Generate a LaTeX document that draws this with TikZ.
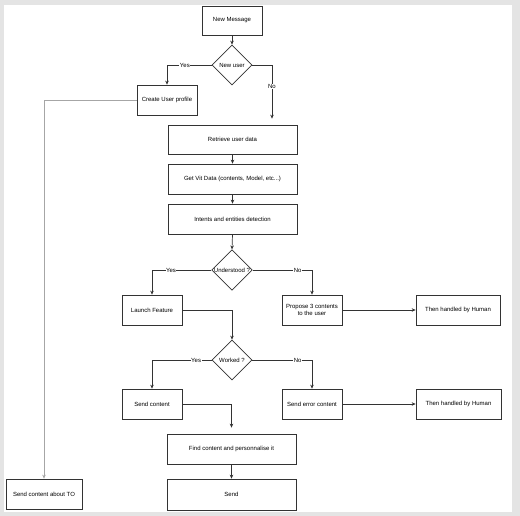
\documentclass[tikz,border=0pt]{standalone}
\usepackage{fontspec}
\setmainfont{Liberation Sans}
\usetikzlibrary{arrows.meta,shapes.geometric}
\definecolor{bggray}{HTML}{E4E4E4}
\definecolor{edgec}{HTML}{333333}
\begin{document}
\begin{tikzpicture}[x=1pt,y=-1pt,
  every node/.style={font=\fontsize{6}{7}\selectfont, text=black},
  box/.style={draw=edgec, line width=0.7pt, fill=white, inner sep=0pt, align=center},
  dia/.style={draw=edgec, line width=0.7pt, fill=white, diamond, inner sep=0pt, minimum width=40pt, minimum height=40pt, align=center},
  conn/.style={draw=edgec, line width=0.7pt, -{Stealth[length=4pt,width=3.5pt]}},
  lbl/.style={fill=white, inner sep=0.5pt}
]
\useasboundingbox (0,0) rectangle (520,516);
\fill[bggray] (0,0) rectangle (520,516);
\fill[white] (4,5) rectangle (512,512);

\node[box, minimum width=60pt, minimum height=29pt] (nm) at (232,20.5) {New Message};
\node[dia] (nu) at (232,65) {New user};
\node[box, minimum width=60pt, minimum height=30pt] (cup) at (167,100) {Create User profile};
\node[box, minimum width=129pt, minimum height=29pt] (rud) at (232.5,139.5) {Retrieve user data};
\node[box, minimum width=129pt, minimum height=30pt] (gvd) at (232.5,179) {Get Vit Data (contents, Model, etc...)};
\node[box, minimum width=129pt, minimum height=30pt] (ied) at (232.5,219) {Intents and entities detection};
\node[dia] (und) at (232,270) {Understood ?};
\node[box, minimum width=60pt, minimum height=30pt] (lf) at (152,310) {Launch Feature};
\node[box, minimum width=60pt, minimum height=30pt] (pro) at (312,310) {Propose 3 contents\\to the user};
\node[box, minimum width=84pt, minimum height=30pt] (th1) at (458,310) {Then handled by Human};
\node[dia] (wk) at (232,360) {Worked ?};
\node[box, minimum width=60pt, minimum height=30pt] (sc) at (152,404) {Send content};
\node[box, minimum width=60pt, minimum height=30pt] (sec) at (312,404) {Send error content};
\node[box, minimum width=85pt, minimum height=30pt] (th2) at (458.5,404) {Then handled by Human};
\node[box, minimum width=129pt, minimum height=30pt] (fc) at (231.5,449) {Find content and personnalise it};
\node[box, minimum width=129pt, minimum height=31pt] (snd) at (231.5,494.5) {Send};
\node[box, minimum width=76pt, minimum height=30pt] (sct) at (44,494) {Send content about TO};

\draw[conn] (nm.south) -- (nu.north);
\draw[conn] (nu.west) -| node[lbl, pos=0.3] {Yes} (cup.north);
\draw[conn, shorten >=6pt] (nu.east) -| node[lbl, pos=0.68] {No} ([xshift=39.5pt]rud.north);
\draw[conn] (rud.south) -- (gvd.north);
\draw[conn] (gvd.south) -- (ied.north);
\draw[conn] (ied.south) -- (und.north);
\draw[conn] (und.west) -| node[lbl, pos=0.34] {Yes} (lf.north);
\draw[conn] (und.east) -| node[lbl, pos=0.38] {No} (pro.north);
\draw[conn] (pro.east) -- (th1.west);
\draw[conn] (lf.east) -| (wk.north);
\draw[conn] (wk.west) -| node[lbl, pos=0.13] {Yes} (sc.north);
\draw[conn] (wk.east) -| node[lbl, pos=0.38] {No} (sec.north);
\draw[conn] (sec.east) -- (th2.west);
\draw[conn, shorten >=6pt] (sc.east) -| (fc.north);
\draw[conn] (fc.south) -- (snd.north);
\draw[conn, draw=gray!70] (cup.west) -| (sct.north);
\end{tikzpicture}
\end{document}
